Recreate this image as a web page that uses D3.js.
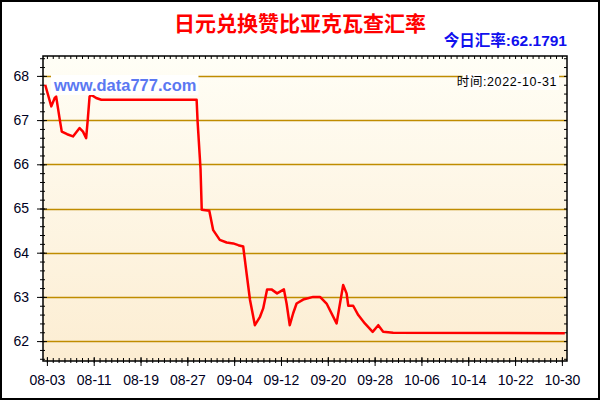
<!DOCTYPE html>
<html>
<head>
<meta charset="utf-8">
<script src="https://cdn.jsdelivr.net/npm/d3@7"></script>
<style>
body { margin: 0; background: #fff; }
text { font-family: "Liberation Sans", Arial, "Noto Sans CJK SC", sans-serif; }
</style>
</head>
<body>
<div id="chart-area"></div>
<script>
// chart data (MM-DD HH:mm, rate)
const dates = [
	'08-02 17:00', '08-03 18:00', '08-04 08:00', '08-04 14:00', '08-05 04:00', '08-05 13:00',
	'08-06 11:00', '08-07 11:00', '08-08 14:00', '08-09 04:00', '08-09 17:00', '08-10 00:00',
	'08-10 07:00', '08-10 14:00', '08-11 10:00', '08-12 07:00', '08-28 14:00', '08-28 18:00',
	'08-29 06:00', '08-29 11:00', '08-30 18:00', '08-31 10:00', '09-01 13:00', '09-02 17:00',
	'09-03 20:00', '09-04 17:00', '09-05 13:00', '09-06 03:00', '09-06 17:00', '09-07 13:00',
	'09-08 10:00', '09-08 23:00', '09-09 15:00', '09-10 09:00', '09-11 08:00', '09-12 12:00',
	'09-12 23:00', '09-13 12:00', '09-14 02:00', '09-14 16:00', '09-15 19:00', '09-17 12:00',
	'09-18 16:00', '09-19 19:00', '09-21 12:00', '09-22 02:00', '09-22 15:00', '09-23 05:00',
	'09-23 12:00', '09-24 08:00', '09-25 05:00', '09-26 08:00', '09-27 16:00', '09-28 15:00',
	'09-29 11:00', '10-01 04:00', '10-30 12:00'
]
const rates = [
	67.80, 67.31, 67.50, 67.53, 67.04, 66.74,
	66.68, 66.63, 66.82, 66.74, 66.59, 67.04,
	67.53, 67.57, 67.50, 67.46, 67.46, 66.97,
	65.90, 64.97, 64.95, 64.51, 64.29, 64.23,
	64.21, 64.17, 64.14, 63.53, 62.93, 62.36,
	62.55, 62.74, 63.17, 63.17, 63.08, 63.17,
	62.85, 62.36, 62.63, 62.85, 62.94, 63.00,
	63.00, 62.85, 62.40, 62.85, 63.27, 63.08,
	62.80, 62.80, 62.59, 62.40, 62.21, 62.36,
	62.21, 62.19, 62.18
]
const xLabels = ['08-03', '08-11', '08-19', '08-27', '09-04', '09-12', '09-20', '09-28', '10-06', '10-14', '10-22', '10-30']
const yLabels = [62, 63, 64, 65, 66, 67, 68]

const titleText = '日元兑换赞比亚克瓦查汇率'
const rateText = '今日汇率:62.1791'
const siteText = 'www.data777.com'
const timeText = '时间:2022-10-31'

const margin = {
	top: 56,
	left: 43,
	right: 33,
	bottom: 39
}

const width = 600 - margin.left - margin.right
const height = 400 - margin.top - margin.bottom

const parseDate = d3.timeParse('%Y-%m-%d %H:%M')
const parseDay = d3.timeParse('%Y-%m-%d')

const data = dates.map((d, i) => ({ date: parseDate('2022-' + d), rate: rates[i] }))
const majorDays = xLabels.map(d => parseDay('2022-' + d))

let svg = d3.select('#chart-area')
	.append('svg')
	.attr('width', 600)
	.attr('height', 400)

// gradient for plot background
let grad = svg.append('defs')
	.append('linearGradient')
	.attr('id', 'bg')
	.attr('x1', 0).attr('y1', 0).attr('x2', 0).attr('y2', 1)
grad.append('stop').attr('offset', '0%').attr('stop-color', '#fffef6')
grad.append('stop').attr('offset', '100%').attr('stop-color', '#fcedd2')

// outer frame
svg.append('rect')
	.attr('x', 1).attr('y', 1)
	.attr('width', 598).attr('height', 398)
	.attr('fill', '#fff')
	.attr('stroke', '#000')
	.attr('stroke-width', 2)

// title
svg.append('text')
	.attr('x', 300).attr('y', 31)
	.attr('text-anchor', 'middle')
	.attr('fill', '#ff0000')
	.attr('font-size', 21)
	.attr('font-weight', 'bold')
	.text(titleText)

svg.append('text')
	.attr('x', 567).attr('y', 46)
	.attr('text-anchor', 'end')
	.attr('fill', '#1010ee')
	.attr('font-size', 15.5)
	.attr('font-weight', 'bold')
	.text(rateText)

let g = svg.append('g')
	.attr('transform', 'translate(' + margin.left + ',' + margin.top + ')')

g.append('rect')
	.attr('width', width)
	.attr('height', height)
	.attr('fill', 'url(#bg)')

// scales
let xScale = d3.scaleTime()
	.domain([new Date(2022, 7, 2, 8), new Date(2022, 9, 30, 21)])
	.range([0, width])

let yScale = d3.scaleLinear()
	.domain([61.55, 68.45])
	.range([height, 0])

const minorDays = d3.timeDay.range(xScale.domain()[0], xScale.domain()[1])
const minorY = d3.range(61.6, 68.45, 0.2).map(v => +v.toFixed(1))

// gridlines
g.append('g')
	.selectAll('line')
	.data(yLabels)
	.join('line')
	.attr('x1', 0)
	.attr('x2', width)
	.attr('y1', d => Math.round(yScale(d)) + 0.5)
	.attr('y2', d => Math.round(yScale(d)) + 0.5)
	.attr('stroke', '#bf8c00')
	.attr('stroke-width', 1.3)

// ticks, drawn with axes then stretched across the frame line
function addAxis(axis, transform, t1, t2) {
	let a = g.append('g')
		.attr('transform', transform)
		.call(axis)
	a.select('.domain').remove()
	a.selectAll('.tick line').attr('stroke', '#000')
	a.selectAll('.tick line').each(function () {
		let l = d3.select(this)
		if (l.attr('y2') !== null && +l.attr('y2') !== 0) l.attr('y1', t1).attr('y2', t2)
		else l.attr('x1', t1).attr('x2', t2)
	})
	return a
}

// bottom minor + major
addAxis(d3.axisBottom(xScale).tickValues(minorDays).tickFormat(''), 'translate(0,' + height + ')', -3, 2)
let xAxis = addAxis(d3.axisBottom(xScale).tickValues(majorDays).tickFormat(d3.timeFormat('%m-%d')), 'translate(0,' + height + ')', -4, 5)
xAxis.selectAll('text')
	.attr('y', 14)
	.attr('dy', '0.71em')
	.attr('font-size', 14)
	.attr('fill', '#000022')

// top minor
addAxis(d3.axisTop(xScale).tickValues(minorDays).tickFormat(''), 'translate(0,0)', 0, 3)

// left minor + major
addAxis(d3.axisLeft(yScale).tickValues(minorY).tickFormat(''), 'translate(0,0)', -3, 2)
let yAxis = addAxis(d3.axisLeft(yScale).tickValues(yLabels).tickFormat(d3.format('d')), 'translate(0,0)', -6, 4)
yAxis.selectAll('text')
	.attr('x', -14)
	.attr('font-size', 14)
	.attr('fill', '#000022')

// right minor
addAxis(d3.axisRight(yScale).tickValues(minorY).tickFormat(''), 'translate(' + width + ',0)', -3, 0)

// frame
g.append('rect')
	.attr('x', 0).attr('y', 0)
	.attr('width', width).attr('height', height)
	.attr('fill', 'none')
	.attr('stroke', '#000')
	.attr('stroke-width', 1.5)

// rate line
let line = d3.line()
	.x(d => xScale(d.date))
	.y(d => yScale(d.rate))

g.append('path')
	.datum(data)
	.attr('d', line)
	.attr('fill', 'none')
	.attr('stroke', '#ff0000')
	.attr('stroke-width', 2.5)
	.attr('stroke-linejoin', 'round')

// labels with white boxes
function boxedText(x, y, anchor, size, weight, color, txt) {
	let t = g.append('text')
		.attr('x', x).attr('y', y)
		.attr('text-anchor', anchor)
		.attr('font-size', size)
		.attr('font-weight', weight)
		.attr('fill', color)
		.text(txt)
	let b = t.node().getBBox()
	g.insert('rect', function () { return t.node() })
		.attr('x', b.x - 2).attr('y', b.y - 1)
		.attr('width', b.width + 4).attr('height', b.height + 2)
		.attr('fill', '#fff')
	return t
}

boxedText(11, 35, 'start', 16.5, 'bold', '#5b78f2', siteText)
boxedText(514, 30, 'end', 12.5, 'normal', '#000', timeText)
	.attr('letter-spacing', 0.6)
</script>
</body>
</html>
